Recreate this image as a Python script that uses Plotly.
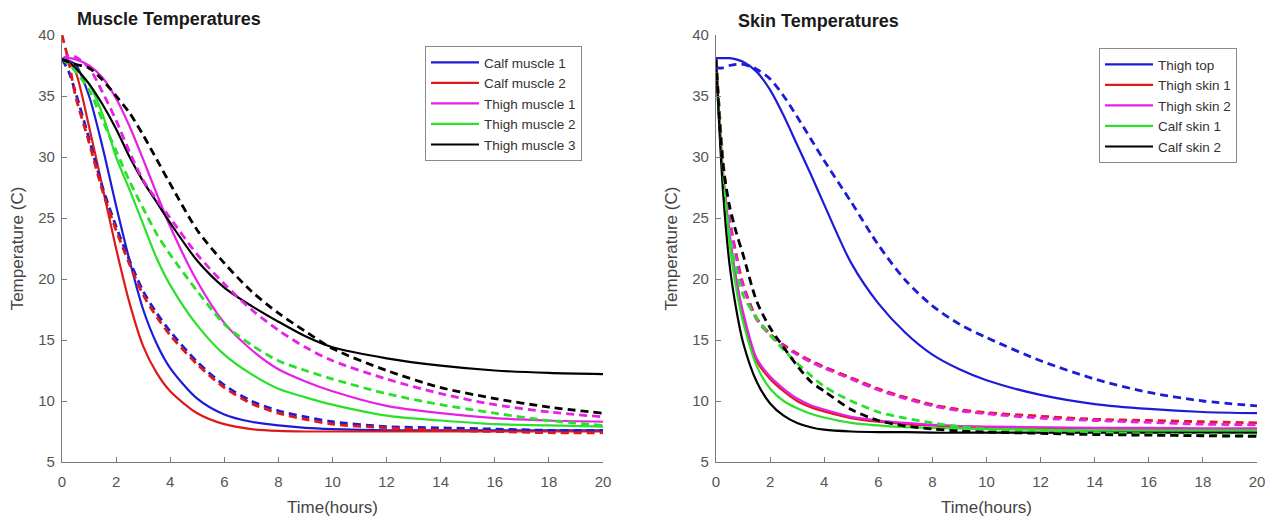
import plotly.graph_objects as go

# ---------------- data: muscle panel ----------------
t_muscle = [0, 0.25, 0.5, 1, 1.5, 2, 2.5, 3, 3.5, 4, 5, 6, 7, 8, 9, 10, 12, 14, 16, 18, 20]

calf1_model = [38, 37.9, 37.6, 35.0, 30.8, 26.0, 21.5, 17.5, 14.7, 12.7, 10.2, 8.9, 8.3, 8.0, 7.8, 7.7, 7.6, 7.6, 7.6, 7.6, 7.6]
calf2_model = [38, 37.8, 37.0, 32.5, 27.5, 22.5, 18.0, 14.5, 12.3, 10.8, 9.0, 8.1, 7.7, 7.55, 7.5, 7.5, 7.5, 7.5, 7.5, 7.5, 7.5]
thigh1_model = [38, 38.1, 38.0, 37.5, 36.5, 34.8, 32.5, 29.8, 27.0, 24.3, 19.8, 16.4, 14.2, 12.6, 11.6, 10.8, 9.6, 9.0, 8.6, 8.4, 8.3]
thigh2_model = [38, 37.8, 37.3, 36.0, 33.5, 30.0, 27.3, 24.5, 21.7, 19.5, 16.2, 13.8, 12.2, 11.0, 10.3, 9.7, 8.8, 8.4, 8.1, 8.0, 7.9]
thigh3_model = [38, 37.8, 37.3, 36.0, 34.3, 32.3, 30.0, 28.0, 26.3, 24.6, 21.5, 19.3, 17.8, 16.5, 15.3, 14.4, 13.5, 12.9, 12.5, 12.3, 12.2]

calf1_meas = [38, 37.0, 35.3, 31.5, 27.5, 24.3, 21.5, 19.0, 17.2, 15.7, 13.2, 11.3, 10.0, 9.2, 8.7, 8.3, 7.9, 7.8, 7.7, 7.6, 7.6]
calf2_meas = [40, 37.8, 35.0, 31.2, 27.2, 24.0, 21.2, 18.7, 16.9, 15.4, 13.0, 11.1, 9.8, 9.0, 8.5, 8.1, 7.8, 7.6, 7.5, 7.4, 7.4]
thigh1_meas = [38, 38.3, 38.2, 37.3, 35.3, 33.0, 30.4, 28.1, 26.5, 25.0, 22.0, 19.6, 17.5, 15.8, 14.4, 13.3, 11.8, 10.6, 9.7, 9.1, 8.7]
thigh2_meas = [38, 37.6, 37.0, 35.5, 33.0, 30.5, 28.0, 25.8, 23.7, 22.0, 19.0, 16.3, 14.6, 13.3, 12.5, 11.8, 10.6, 9.7, 9.0, 8.4, 8.0]
thigh3_meas = [38, 37.8, 37.6, 37.3, 36.3, 35.0, 33.6, 31.8, 29.8, 27.8, 24.0, 21.3, 19.0, 17.2, 15.7, 14.3, 12.5, 11.1, 10.2, 9.5, 9.0]

muscle_names = ["Calf muscle 1", "Calf muscle 2", "Thigh muscle 1", "Thigh muscle 2", "Thigh muscle 3"]

# ---------------- data: skin panel ----------------
t_skin = [0, 0.25, 0.5, 0.75, 1, 1.5, 2, 2.5, 3, 3.5, 4, 5, 6, 7, 8, 9, 10, 12, 14, 16, 18, 20]

thigh_top_model = [38.1, 38.1, 38.1, 38.0, 37.8, 37.0, 35.5, 33.4, 31.0, 28.6, 26.1, 21.3, 18.0, 15.6, 13.8, 12.6, 11.7, 10.5, 9.75, 9.35, 9.1, 9.0]
thigh_skin1_model = [38, 28.8, 23.5, 19.8, 17.0, 13.3, 11.8, 10.8, 10.0, 9.5, 9.15, 8.6, 8.3, 8.1, 8.0, 7.9, 7.85, 7.8, 7.75, 7.7, 7.7, 7.7]
thigh_skin2_model = [38, 29.0, 23.8, 20.0, 17.3, 13.5, 12.0, 11.0, 10.2, 9.65, 9.3, 8.7, 8.4, 8.2, 8.05, 7.95, 7.9, 7.85, 7.8, 7.8, 7.75, 7.75]
calf_skin1_model = [38, 28.5, 23.0, 19.2, 16.5, 12.9, 11.0, 10.0, 9.4, 8.95, 8.65, 8.2, 8.0, 7.85, 7.8, 7.75, 7.7, 7.65, 7.6, 7.6, 7.6, 7.6]
calf_skin2_model = [38, 27.5, 21.2, 17.5, 14.8, 11.6, 9.8, 8.8, 8.2, 7.85, 7.65, 7.5, 7.45, 7.45, 7.4, 7.4, 7.4, 7.4, 7.4, 7.4, 7.4, 7.4]

thigh_top_meas = [37.3, 37.3, 37.5, 37.6, 37.6, 37.2, 36.4, 35.0, 33.3, 31.5, 29.7, 26.3, 22.8, 19.9, 17.8, 16.3, 15.2, 13.3, 11.8, 10.7, 10.0, 9.6]
thigh_skin1_meas = [38, 30.0, 25.0, 22.0, 19.6, 16.8, 15.5, 14.6, 13.9, 13.3, 12.8, 11.9, 11.0, 10.3, 9.7, 9.3, 9.05, 8.75, 8.5, 8.4, 8.3, 8.2]
thigh_skin2_meas = [38, 29.8, 24.8, 21.8, 19.4, 16.7, 15.4, 14.5, 13.8, 13.2, 12.7, 11.8, 10.9, 10.2, 9.6, 9.2, 8.95, 8.6, 8.4, 8.25, 8.1, 8.05]
calf_skin1_meas = [38, 29.5, 23.5, 20.8, 18.7, 16.8, 15.4, 14.2, 13.1, 12.1, 11.2, 10.0, 9.1, 8.6, 8.2, 7.9, 7.7, 7.5, 7.4, 7.3, 7.25, 7.2]
calf_skin2_meas = [38, 29.5, 26.0, 23.8, 22.0, 18.2, 16.0, 14.4, 12.9, 11.6, 10.8, 9.3, 8.4, 7.95, 7.7, 7.55, 7.45, 7.35, 7.25, 7.2, 7.15, 7.1]

skin_names = ["Thigh top", "Thigh skin 1", "Thigh skin 2", "Calf skin 1", "Calf skin 2"]

x_ticks = [0, 2, 4, 6, 8, 10, 12, 14, 16, 18, 20]
y_ticks = [5, 10, 15, 20, 25, 30, 35, 40]

colors = ["#1c1cd8", "#e01818", "#e620e6", "#2ae02a", "#000000"]

muscle_model = [calf1_model, calf2_model, thigh1_model, thigh2_model, thigh3_model]
muscle_meas = [calf1_meas, calf2_meas, thigh1_meas, thigh2_meas, thigh3_meas]
skin_model = [thigh_top_model, thigh_skin1_model, thigh_skin2_model, calf_skin1_model, calf_skin2_model]
skin_meas = [thigh_top_meas, thigh_skin1_meas, thigh_skin2_meas, calf_skin1_meas, calf_skin2_meas]

fig = go.Figure()

def add_panel(t, models, meas, names, xa, ya, legend):
    for i in range(5):
        fig.add_trace(go.Scatter(x=t, y=models[i], mode="lines", name=names[i],
                                 line=dict(color=colors[i], width=2.2, shape="spline", smoothing=0.8),
                                 xaxis=xa, yaxis=ya, legend=legend, showlegend=True))
    for i in range(5):
        fig.add_trace(go.Scatter(x=t, y=meas[i], mode="lines", name=names[i] + " (measured)",
                                 line=dict(color=colors[i], width=2.8, dash="8px,5px", shape="spline", smoothing=0.8),
                                 xaxis=xa, yaxis=ya, legend=legend, showlegend=False))

add_panel(t_muscle, muscle_model, muscle_meas, muscle_names, "x", "y", "legend")
add_panel(t_skin, skin_model, skin_meas, skin_names, "x2", "y2", "legend2")

FONT = "Liberation Sans, Arial"
axis_common = dict(showgrid=False, zeroline=False, showline=True, linecolor="#7a7a7a", linewidth=1.2,
                   ticks="inside", ticklen=5, tickcolor="#7a7a7a", mirror=False, automargin=False,
                   tickfont=dict(family=FONT, size=15, color="#555555"))

# page body has an 8px margin; work in page pixels and subtract it
OFF = 8
W, H = 1273 - OFF, 520 - OFF
L = 62 - OFF
R = 16
T = 35 - OFF
B = H - (462 - OFF)
pw = W - L - R
ph = H - T - B

def dom(a, b):
    return [(a - 62) / pw, (b - 62) / pw]

def px_x(x):
    return (x - 62) / pw

def px_y(y):
    return (462 - y) / ph

title_font = dict(family=FONT, size=17, color="#444444")
legend_common = dict(xanchor="left", yanchor="top", bgcolor="white", bordercolor="#8a8a8a",
                     borderwidth=1, tracegroupgap=0, itemwidth=48,
                     font=dict(family=FONT, size=13.5, color="#333333"))

fig.update_layout(
    width=W, height=H,
    margin=dict(l=L, r=R, t=T, b=B),
    paper_bgcolor="white", plot_bgcolor="white",
    showlegend=True,
    xaxis=dict(domain=dom(62, 603), range=[0, 20], tickvals=x_ticks, anchor="y", ticklabelstandoff=6,
               title=dict(text="Time(hours)", font=title_font, standoff=12), **axis_common),
    yaxis=dict(domain=[0, 1], range=[5, 40], tickvals=y_ticks, anchor="x", ticklabelstandoff=3,
               title=dict(text="Temperature (C)", font=title_font, standoff=10), **axis_common),
    xaxis2=dict(domain=dom(716, 1257), range=[0, 20], tickvals=x_ticks, anchor="y2", ticklabelstandoff=6,
                title=dict(text="Time(hours)", font=title_font, standoff=12), **axis_common),
    yaxis2=dict(domain=[0, 1], range=[5, 40], tickvals=y_ticks, anchor="x2", ticklabelstandoff=3,
                title=dict(text="Temperature (C)", font=title_font, standoff=10), **axis_common),
    legend=dict(x=px_x(425), y=px_y(46), **legend_common),
    legend2=dict(x=px_x(1099), y=px_y(48), **legend_common),
    annotations=[
        dict(text="<b>Muscle Temperatures</b>", x=px_x(169), y=px_y(19), xref="paper", yref="paper",
             xanchor="center", yanchor="middle", showarrow=False,
             font=dict(family=FONT, size=18, color="#1a1a1a")),
        dict(text="<b>Skin Temperatures</b>", x=px_x(818), y=px_y(21), xref="paper", yref="paper",
             xanchor="center", yanchor="middle", showarrow=False,
             font=dict(family=FONT, size=18, color="#1a1a1a")),
    ],
)

fig.write_html("out.html")
